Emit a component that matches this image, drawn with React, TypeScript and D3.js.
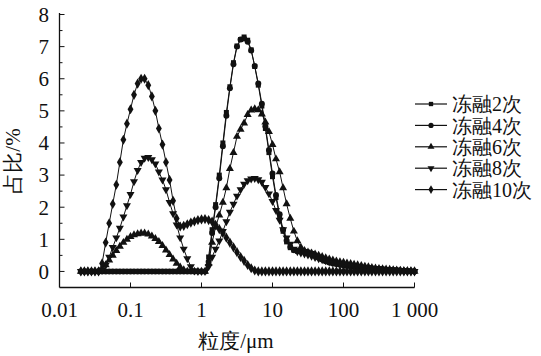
import React from "react";
import * as d3 from "d3";

const sizes = [
  0.02, 0.0224, 0.0251, 0.0282, 0.0316, 0.0355, 0.0398, 0.0447, 0.0501, 0.0562,
  0.0631, 0.0708, 0.0794, 0.0891, 0.1, 0.112, 0.126, 0.141, 0.158, 0.178,
  0.2, 0.224, 0.251, 0.282, 0.316, 0.355, 0.398, 0.447, 0.501, 0.562,
  0.631, 0.708, 0.794, 0.891, 1.0, 1.12, 1.26, 1.41, 1.58, 1.78,
  2.0, 2.24, 2.51, 2.82, 3.16, 3.55, 3.98, 4.47, 5.01, 5.62,
  6.31, 7.08, 7.94, 8.91, 10, 11.2, 12.6, 14.1, 15.8, 17.8,
  20, 22.4, 25.1, 28.2, 31.6, 35.5, 39.8, 44.7, 50.1, 56.2,
  63.1, 70.8, 79.4, 89.1, 100, 112, 126, 141, 158, 178,
  200, 224, 251, 282, 316, 355, 398, 447, 501, 562,
  631, 708, 794, 891, 1000,
];

const ft2 = [
  0, 0, 0, 0, 0, 0, 0, 0, 0, 0,
  0, 0, 0, 0, 0, 0, 0, 0, 0, 0,
  0, 0, 0, 0, 0, 0, 0, 0, 0, 0,
  0, 0, 0, 0, 0, 0, 0.45, 1.3, 2.08, 3.0,
  4.0, 4.95, 5.75, 6.5, 7.02, 7.22, 7.3, 7.2, 6.9, 6.38,
  5.8, 5.15, 4.45, 3.7, 2.95, 2.3, 1.7, 1.25, 0.92, 0.74,
  0.66, 0.63, 0.62, 0.62, 0.6, 0.56, 0.5, 0.44, 0.38, 0.33,
  0.29, 0.26, 0.24, 0.22, 0.2, 0.18, 0.17, 0.15, 0.14, 0.13,
  0.12, 0.11, 0.1, 0.09, 0.08, 0.07, 0.06, 0.05, 0.045, 0.04,
  0.03, 0.02, 0.015, 0.01, 0,
];

const ft4 = [
  0, 0, 0, 0, 0, 0, 0, 0, 0, 0,
  0, 0, 0, 0, 0, 0, 0, 0, 0, 0,
  0, 0, 0, 0, 0, 0, 0, 0, 0, 0,
  0, 0, 0, 0, 0, 0, 0.3, 1.2, 2.0, 2.9,
  3.9, 4.85, 5.7, 6.45, 7.0, 7.22, 7.25, 7.15, 6.88, 6.4,
  5.85, 5.22, 4.52, 3.78, 3.05, 2.38, 1.78, 1.3, 0.96, 0.76,
  0.67, 0.64, 0.63, 0.62, 0.59, 0.55, 0.49, 0.43, 0.37, 0.32,
  0.28, 0.25, 0.23, 0.21, 0.19, 0.17, 0.16, 0.14, 0.13, 0.12,
  0.11, 0.1, 0.09, 0.08, 0.07, 0.06, 0.05, 0.045, 0.04, 0.035,
  0.03, 0.02, 0.015, 0.01, 0,
];

const ft6 = [
  0, 0, 0, 0, 0, 0, 0.05, 0.2, 0.35, 0.5,
  0.65, 0.78, 0.9, 1.0, 1.08, 1.14, 1.17, 1.19, 1.19, 1.16,
  1.1, 1.02, 0.93, 0.8, 0.66, 0.52, 0.38, 0.25, 0.13, 0.05,
  0, 0, 0, 0, 0, 0, 0.25, 0.9, 1.38, 1.75,
  2.15, 2.6, 3.2, 3.7, 4.2, 4.42, 4.62, 4.88, 5.02, 5.06,
  5.03, 4.9, 4.65, 4.35, 3.95, 3.5, 3.1, 2.6, 2.1, 1.65,
  1.25, 0.95, 0.75, 0.65, 0.6, 0.57, 0.54, 0.5, 0.46, 0.42,
  0.38, 0.35, 0.32, 0.3, 0.28, 0.26, 0.24, 0.22, 0.2, 0.18,
  0.16, 0.14, 0.12, 0.1, 0.09, 0.08, 0.07, 0.06, 0.05, 0.04,
  0.03, 0.02, 0.015, 0.01, 0,
];

const ft8 = [
  0, 0, 0, 0, 0, 0, 0.05, 0.2, 0.45, 0.75,
  1.05, 1.35, 1.7, 2.05, 2.4, 2.8, 3.15, 3.4, 3.53, 3.55,
  3.48, 3.35, 3.1, 2.85, 2.55, 2.15, 1.8, 1.45, 1.05, 0.7,
  0.4, 0.15, 0.02, 0, 0, 0, 0.15, 0.45, 0.7, 0.95,
  1.25, 1.55, 1.85, 2.1, 2.35, 2.55, 2.72, 2.83, 2.88, 2.9,
  2.86, 2.78, 2.62, 2.42, 2.18, 1.9, 1.6, 1.3, 1.05, 0.85,
  0.7, 0.62, 0.58, 0.55, 0.52, 0.48, 0.44, 0.4, 0.37, 0.34,
  0.31, 0.28, 0.26, 0.24, 0.22, 0.2, 0.18, 0.16, 0.15, 0.13,
  0.12, 0.11, 0.1, 0.09, 0.08, 0.07, 0.06, 0.05, 0.04, 0.03,
  0.025, 0.02, 0.01, 0.005, 0,
];

const ft10 = [
  0, 0, 0, 0, 0, 0, 0.25, 0.9, 1.5, 2.1,
  2.7, 3.4, 4.1, 4.6, 5.05, 5.5, 5.85, 6.0, 6.0, 5.8,
  5.45, 5.0, 4.45, 3.95, 3.4, 2.85, 2.2, 1.65, 1.4, 1.42,
  1.47, 1.52, 1.56, 1.6, 1.62, 1.63, 1.6, 1.55, 1.45, 1.32,
  1.2, 1.05, 0.9, 0.75, 0.6, 0.45, 0.33, 0.2, 0.1, 0.03,
  0, 0, 0, 0, 0, 0, 0, 0, 0, 0,
  0, 0, 0, 0, 0, 0, 0, 0, 0, 0,
  0, 0, 0, 0, 0, 0, 0, 0, 0, 0,
  0, 0, 0, 0, 0, 0, 0, 0, 0, 0,
  0, 0, 0, 0, 0,
];

const seriesNames = ["冻融2次", "冻融4次", "冻融6次", "冻融8次", "冻融10次"];
const seriesValues = [ft2, ft4, ft6, ft8, ft10];
const xTicks = [0.01, 0.1, 1, 10, 100, 1000];
const xTickLabels = ["0.01", "0.1", "1", "10", "100", "1 000"];
const yTicks = [0, 1, 2, 3, 4, 5, 6, 7, 8];
const yMinorTicks = [0.5, 1.5, 2.5, 3.5, 4.5, 5.5, 6.5, 7.5];

const FONT = "serif";
const INK = "#111";

const symbolDefs = [
  { type: d3.symbolSquare, size: 25, rot: 0 },
  { type: d3.symbolCircle, size: 28, rot: 0 },
  { type: d3.symbolTriangle, size: 28, rot: 0 },
  { type: d3.symbolTriangle, size: 28, rot: 180 },
  { type: d3.symbolDiamond, size: 30, rot: 0 },
];

export default function App() {
  const x = d3.scaleLog().domain([0.01, 1000]).range([59.5, 414.5]);
  const y = d3.scaleLinear().domain([-0.5, 8]).range([287.5, 14.5]);
  const line = d3
    .line<number>()
    .x((_, i) => x(sizes[i]))
    .y((v) => y(v));

  const legendY = (k: number) => 104 + 21.4 * k;
  const tStyle = { fontFamily: FONT };

  return (
    <svg
      width={541}
      height={356}
      style={{ position: "absolute", left: 0, top: 0, background: "#fff" }}
    >
      <rect x={0} y={0} width={541} height={356} fill="#fff" />
      {/* axes */}
      <line x1={x(0.01)} x2={x(0.01)} y1={y(8) - 1.5} y2={y(-0.5)} stroke={INK} strokeWidth={1.3} />
      <line x1={x(0.01)} x2={x(1000)} y1={y(-0.5)} y2={y(-0.5)} stroke={INK} strokeWidth={1.3} />
      {yTicks.map((t) => (
        <g key={"yt" + t}>
          <line x1={x(0.01)} x2={x(0.01) + 5} y1={y(t)} y2={y(t)} stroke={INK} strokeWidth={1} />
          <text x={49} y={y(t)} dy="0.35em" textAnchor="end" fontSize={21} fill={INK} style={tStyle}>
            {t}
          </text>
        </g>
      ))}
      {yMinorTicks.map((t) => (
        <line key={"ym" + t} x1={x(0.01)} x2={x(0.01) + 3} y1={y(t)} y2={y(t)} stroke={INK} strokeWidth={1} />
      ))}
      {xTicks.map((t, i) => (
        <g key={"xt" + t}>
          {i > 0 && (
            <line x1={x(t)} x2={x(t)} y1={y(-0.5)} y2={y(-0.5) - 5} stroke={INK} strokeWidth={1} />
          )}
          <text x={x(t)} y={316.5} textAnchor="middle" fontSize={21} fill={INK} style={tStyle}>
            {xTickLabels[i]}
          </text>
        </g>
      ))}
      <text x={236} y={348} textAnchor="middle" fontSize={21} fill={INK} style={tStyle}>
        粒度/μm
      </text>
      <text transform="translate(20,161) rotate(-90)" textAnchor="middle" fontSize={21} fill={INK} style={tStyle}>
        占比/%
      </text>

      {/* series */}
      {seriesValues.map((vals, s) => {
        const sym = d3.symbol().type(symbolDefs[s].type).size(symbolDefs[s].size)();
        return (
          <g key={"s" + s}>
            <path d={line(vals) || ""} fill="none" stroke={INK} strokeWidth={1} />
            {vals.map((v, i) => (
              <path
                key={i}
                d={sym || ""}
                fill={INK}
                transform={`translate(${x(sizes[i])},${y(v)}) rotate(${symbolDefs[s].rot})`}
              />
            ))}
          </g>
        );
      })}

      {/* legend */}
      {seriesNames.map((name, s) => {
        const sym = d3.symbol().type(symbolDefs[s].type).size(symbolDefs[s].size * 0.75)();
        const ly = legendY(s);
        return (
          <g key={"lg" + s}>
            <line x1={415} x2={447} y1={ly} y2={ly} stroke={INK} strokeWidth={1.2} />
            <path d={sym || ""} fill={INK} transform={`translate(431,${ly}) rotate(${symbolDefs[s].rot})`} />
            <text x={452} y={ly} dy="0.36em" fontSize={20} fill={INK} style={tStyle}>
              {name}
            </text>
          </g>
        );
      })}
    </svg>
  );
}
